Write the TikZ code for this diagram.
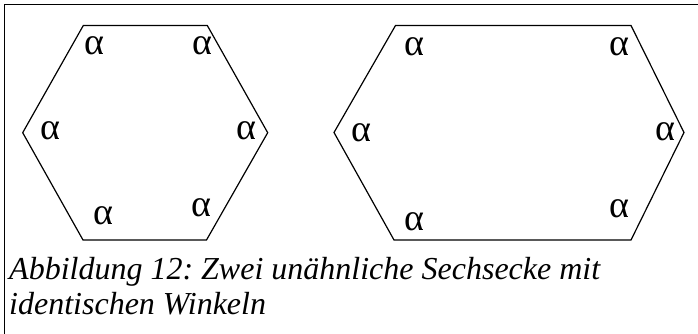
\documentclass[tikz,border=0pt]{standalone}
\usepackage{fontspec}
\setmainfont{Liberation Serif}
\frenchspacing
\begin{document}
\begin{tikzpicture}[x=1pt,y=-1pt,
  hexline/.style={line width=1.2pt, line join=miter},
  framel/.style={line width=1pt},
  angl/.style={inner sep=0pt, font=\fontsize{38}{38}\selectfont},
  capt/.style={inner sep=0pt, anchor=base west, font=\fontsize{32}{34}\selectfont\itshape}]
\useasboundingbox (0,0) rectangle (698,334);
% frame
\coordinate (fa) at (4,334);
\coordinate (fb) at (4,5);
\coordinate (fc) at (698,5);
\draw[framel] (fa) -- (fb) -- (fc);
% left hexagon
\coordinate (L1) at (22.7,132.7);
\coordinate (L2) at (83.3,25.5);
\coordinate (L3) at (207.3,25.5);
\coordinate (L4) at (267.7,132.7);
\coordinate (L5) at (206.5,240);
\coordinate (L6) at (83,240);
\draw[hexline] (L1) -- (L2) -- (L3) -- (L4) -- (L5) -- (L6) -- cycle;
% right hexagon
\coordinate (R1) at (334,132.5);
\coordinate (R2) at (395.5,25.5);
\coordinate (R3) at (631,25.5);
\coordinate (R4) at (684,132.5);
\coordinate (R5) at (631,240);
\coordinate (R6) at (394,240);
\draw[hexline] (R1) -- (R2) -- (R3) -- (R4) -- (R5) -- (R6) -- cycle;
% angle labels, left
\node[angl] (la1) at (50.7,130.5) {α};
\node[angl] (la2) at (94.5,45.8) {α};
\node[angl] (la3) at (202,45.8) {α};
\node[angl] (la4) at (246.7,131) {α};
\node[angl] (la5) at (201,207.8) {α};
\node[angl] (la6) at (103,215.8) {α};
% angle labels, right
\node[angl] (ra1) at (361,132.5) {α};
\node[angl] (ra2) at (414.5,46.3) {α};
\node[angl] (ra3) at (619.7,47) {α};
\node[angl] (ra4) at (665,132) {α};
\node[angl] (ra5) at (619.7,208.3) {α};
\node[angl] (ra6) at (414.5,222) {α};
% caption
\node[capt] (c1) at (9,279.8) {Abbildung 12: Zwei unähnliche Sechsecke mit};
\node[capt] (c2) at (9,314) {identischen Winkeln};
\end{tikzpicture}
\end{document}
